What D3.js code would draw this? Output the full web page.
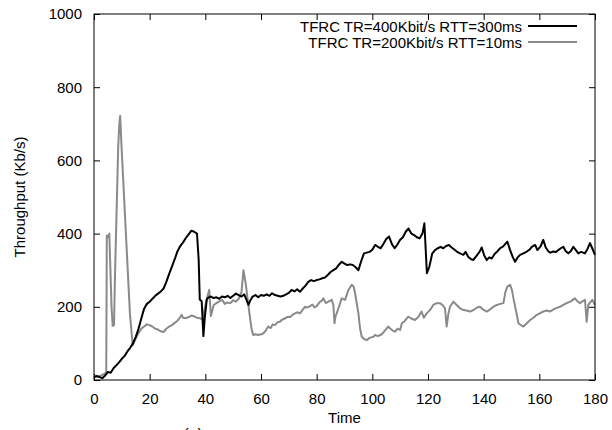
<!DOCTYPE html>
<html><head><meta charset="utf-8">
<script src="https://cdn.jsdelivr.net/npm/d3@7"></script>
<style>
html,body{margin:0;padding:0;background:#fff;}
svg{display:block;font-family:"Liberation Sans",Arial,Helvetica,sans-serif;}
</style></head>
<body>
<svg id="chart" width="612" height="430"></svg>
<script>
const seriesNames = ["TFRC TR=400Kbit/s RTT=300ms", "TFRC TR=200Kbit/s RTT=10ms"];
const seriesColors = ["#000000", "#8a8a8a"];
const xTicks = [0,20,40,60,80,100,120,140,160,180];
const yTicks = [0,200,400,600,800,1000];

const timeA = [0,1,2,3,4,5,6,7,8,9,10,11,12,13,14,15,16,17,18,19,20,21,22,23,24,25,26,27,28,29,30,31,32,33,34,35,36,37,37.6,38,38.7,39.3,39.8,40.5,41,42,43,44,45,46,47,48,49,50,51,52,53,54,55,55.5,56,57,58,59,60,61,62,63,64,65,66,67,68,69,70,71,72,73,74,75,76,77,78,79,80,81,82,83,84,85,86,87,88,89,90,91,92,93,94,95,96,97,98,99,100,101,102,103,104,105,106,107,108,109,110,111,112,113,114,115,116,117,118,118.7,119.6,120.5,121.5,122.5,123.5,124.5,125.5,126.5,127.5,128.5,129.7,130.5,131.5,132.7,133.5,134.5,135.5,136.3,137.5,138.5,139.3,140.2,141.1,142,142.9,144,145,145.9,147,148.5,149.5,150.5,151.3,152.2,153.1,154.3,155.5,156.5,157.3,158.5,159.3,160.5,161.4,162.3,163.3,164,165,166,166.8,167.7,168.6,169.5,170.4,171.3,172.2,173,174,175,176.4,177.3,178.2,179,180];
const thrA = [8,10,8,5,12,22,20,32,40,48,58,66,78,88,100,118,140,168,195,208,214,222,230,236,242,250,268,290,310,330,352,366,376,388,398,408,405,400,330,220,215,120,170,219,225,228,224,226,222,228,226,230,224,230,236,232,228,234,215,205,215,228,232,226,232,230,234,230,237,232,230,228,230,234,238,246,242,248,241,250,258,268,273,270,273,275,278,280,287,295,300,305,315,323,318,314,316,314,308,300,325,346,348,350,356,369,364,360,372,385,392,372,360,370,383,390,405,414,400,396,390,387,400,428,292,310,345,355,360,364,360,366,369,362,355,350,346,342,350,336,330,328,340,350,362,340,328,335,332,345,352,360,365,378,355,335,323,335,342,346,351,356,364,369,355,366,383,362,351,348,351,350,355,360,364,352,346,352,364,356,346,350,346,358,374,360,342];

const timeB = [0,1,2,3,4,4.4,4.6,5,5.5,5.9,6.3,6.7,7.2,7.5,8.1,8.7,9.1,9.4,9.9,10.5,11.7,12.9,13.9,14.5,15.3,16,17,18,19,20,21,22,23,24,25,26,27,28,29,30,31,31.5,32,33,34,35,36,37,38,39,39.5,40.3,41,41.4,42,42.5,43,44,45,46,47,48,49,50,51,52,53,53.7,54.5,55.3,56,56.6,57.2,58,59,60,60.8,61.7,62.6,63.5,64.2,65,66,67,67.4,68.5,69.8,70.5,71.3,72.2,73,74,75,75.8,76.5,77.6,78.5,79.2,80,81,82,82.4,83.3,84.2,85.4,86,86.4,86.8,87.2,88,89,90.2,91.4,92.6,93.3,93.8,94.5,95,95.6,96.2,97,98,99,100.4,101,102,103.4,104.5,105.7,106.5,107.3,108.2,109,110,110.6,111.5,112.9,114,115.3,116.5,117.7,118.5,119.5,120.7,121.9,123.1,124.3,125.2,126.1,126.7,127.3,127.9,129.1,130.3,131.5,132.5,133.8,135.1,136.5,137.6,138.7,139.9,141.1,142.3,143.5,144.7,146,147.1,147.8,148.5,149.5,150.2,150.7,151.6,152.5,153.4,154.3,155.5,156.7,157.9,159.1,160.3,161.4,162.6,163.8,165.6,167.4,168.6,169.8,171.3,172.8,173.7,174.6,175.5,176.4,177,177.6,178.3,179,180];
const thrB = [10,12,10,14,18,22,395,390,400,300,200,148,150,273,456,637,700,722,637,546,364,182,95,105,118,128,140,146,152,150,146,140,138,133,131,140,146,150,156,162,172,178,170,169,172,176,174,170,169,165,185,215,235,246,175,190,205,210,215,219,208,212,210,218,214,222,240,300,264,215,173,140,123,125,123,125,127,135,146,142,152,150,158,160,164,168,173,172,178,182,185,182,192,200,198,202,206,198,202,212,218,223,210,214,219,205,155,175,182,200,223,219,246,260,255,237,205,182,140,118,112,109,115,118,123,120,125,135,146,140,135,132,140,137,155,160,173,168,164,172,187,170,182,191,205,210,210,205,196,146,180,200,214,205,196,192,190,187,192,198,200,192,187,193,200,205,208,210,240,255,260,245,223,190,155,150,146,155,164,170,178,183,187,190,187,195,200,205,210,215,223,215,210,215,219,159,205,212,219,205];

const W = 612, H = 430;
const m = {left:94, right:595, top:14, bottom:380};
const svg = d3.select("#chart");
const x = d3.scaleLinear().domain([0,180]).range([m.left, m.right]);
const y = d3.scaleLinear().domain([0,1000]).range([m.bottom, m.top]);

const fs = 15;
const gx = svg.append("g").attr("transform", `translate(0,${m.bottom})`)
  .call(d3.axisBottom(x).tickValues(xTicks).tickSizeInner(-6).tickSizeOuter(0).tickPadding(13).tickFormat(d3.format("d")));
const gxt = svg.append("g").attr("transform", `translate(0,${m.top})`)
  .call(d3.axisTop(x).tickValues(xTicks).tickSizeInner(-6).tickSizeOuter(0).tickFormat(""));
const gy = svg.append("g").attr("transform", `translate(${m.left},0)`)
  .call(d3.axisLeft(y).tickValues(yTicks).tickSizeInner(-6).tickSizeOuter(0).tickPadding(12).tickFormat(d3.format("d")));
const gyr = svg.append("g").attr("transform", `translate(${m.right},0)`)
  .call(d3.axisRight(y).tickValues(yTicks).tickSizeInner(-6).tickSizeOuter(0).tickFormat(""));
[gx,gxt,gy,gyr].forEach(g=>{
  g.select(".domain").remove();
  g.selectAll("line").attr("stroke","#000").attr("stroke-width",1);
  g.selectAll("text").attr("font-size",fs).attr("fill","#000").attr("font-family","Liberation Sans, Arial, sans-serif");
});

const line = d3.line().x(d=>x(d[0])).y(d=>y(d[1]));
const dataB = timeB.map((t,i)=>[t,thrB[i]]);
const dataA = timeA.map((t,i)=>[t,thrA[i]]);
svg.append("path").datum(dataB).attr("d",line).attr("fill","none")
  .attr("stroke",seriesColors[1]).attr("stroke-width",2).attr("stroke-linejoin","round");
svg.append("path").datum(dataA).attr("d",line).attr("fill","none")
  .attr("stroke",seriesColors[0]).attr("stroke-width",2).attr("stroke-linejoin","round");

svg.append("rect").attr("x",m.left).attr("y",m.top).attr("width",m.right-m.left)
  .attr("height",m.bottom-m.top).attr("fill","none").attr("stroke","#000").attr("stroke-width",1);

const leg = svg.append("g");
seriesNames.forEach((n,i)=>{
  const yy = 26 + i*16;
  leg.append("text").attr("x",522).attr("y",yy+5.5).attr("text-anchor","end")
    .attr("font-size",fs).attr("fill","#000").text(n);
  leg.append("line").attr("x1",528).attr("x2",577).attr("y1",yy).attr("y2",yy)
    .attr("stroke",seriesColors[i]).attr("stroke-width",2);
});

svg.append("text").attr("x",(m.left+m.right)/2).attr("y",423).attr("text-anchor","middle")
  .attr("font-size",fs).text("Time");
svg.append("text").attr("transform",`translate(25,${(m.top+m.bottom)/2}) rotate(-90)`)
  .attr("text-anchor","middle").attr("font-size",fs).text("Throughput (Kb/s)");
svg.append("text").attr("x",193).attr("y",440).attr("text-anchor","middle")
  .attr("font-size",16).text("(a)");
</script>
</body></html>
